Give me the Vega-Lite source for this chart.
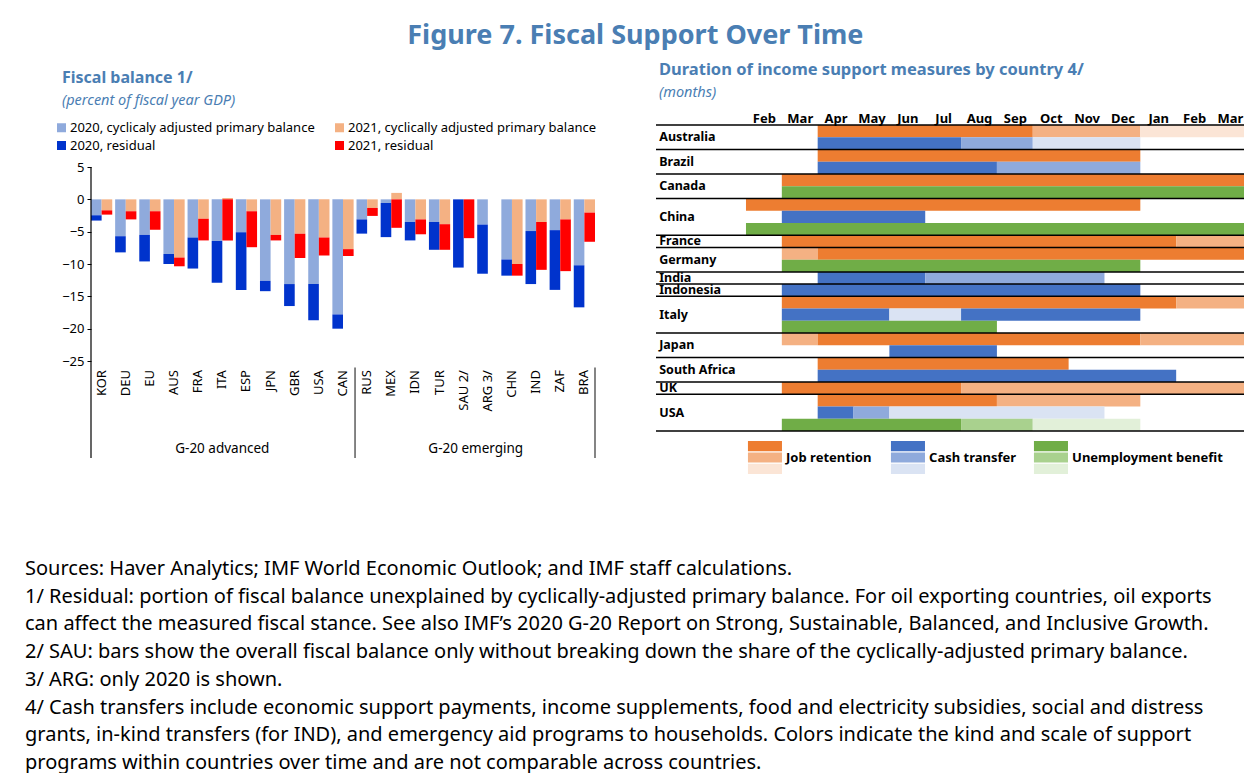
{
  "$schema": "https://vega.github.io/schema/vega-lite/v6.json",
  "padding": {"left": 25, "top": 22, "right": 0, "bottom": 0},
  "background": "white",
  "title": {"text": "Figure 7. Fiscal Support Over Time", "fontSize": 27, "font": "Noto Sans", "fontWeight": "bold", "color": "#4A7EB3", "anchor": "middle", "frame": "bounds", "offset": 12},
  "config": {
    "font": "Noto Sans",
    "view": {"stroke": null},
    "axis": {"grid": false}
  },
  "datasets": {
    "fb": [
      {"c":"KOR","yr":"2020","p":"a","s":"2020, cyclicaly adjusted primary balance","v":-2.46},
      {"c":"KOR","yr":"2020","p":"b","s":"2020, residual","v":-0.82},
      {"c":"KOR","yr":"2021","p":"a","s":"2021, cyclically adjusted primary balance","v":-1.7},
      {"c":"KOR","yr":"2021","p":"b","s":"2021, residual","v":-0.66},
      {"c":"DEU","yr":"2020","p":"a","s":"2020, cyclicaly adjusted primary balance","v":-5.7},
      {"c":"DEU","yr":"2020","p":"b","s":"2020, residual","v":-2.5},
      {"c":"DEU","yr":"2021","p":"a","s":"2021, cyclically adjusted primary balance","v":-1.84},
      {"c":"DEU","yr":"2021","p":"b","s":"2021, residual","v":-1.26},
      {"c":"EU","yr":"2020","p":"a","s":"2020, cyclicaly adjusted primary balance","v":-5.5},
      {"c":"EU","yr":"2020","p":"b","s":"2020, residual","v":-4.1},
      {"c":"EU","yr":"2021","p":"a","s":"2021, cyclically adjusted primary balance","v":-1.84},
      {"c":"EU","yr":"2021","p":"b","s":"2021, residual","v":-2.86},
      {"c":"AUS","yr":"2020","p":"a","s":"2020, cyclicaly adjusted primary balance","v":-8.45},
      {"c":"AUS","yr":"2020","p":"b","s":"2020, residual","v":-1.55},
      {"c":"AUS","yr":"2021","p":"a","s":"2021, cyclically adjusted primary balance","v":-9.0},
      {"c":"AUS","yr":"2021","p":"b","s":"2021, residual","v":-1.35},
      {"c":"FRA","yr":"2020","p":"a","s":"2020, cyclicaly adjusted primary balance","v":-5.9},
      {"c":"FRA","yr":"2020","p":"b","s":"2020, residual","v":-4.8},
      {"c":"FRA","yr":"2021","p":"a","s":"2021, cyclically adjusted primary balance","v":-3.0},
      {"c":"FRA","yr":"2021","p":"b","s":"2021, residual","v":-3.35},
      {"c":"ITA","yr":"2020","p":"a","s":"2020, cyclicaly adjusted primary balance","v":-6.45},
      {"c":"ITA","yr":"2020","p":"b","s":"2020, residual","v":-6.45},
      {"c":"ITA","yr":"2021","p":"a","s":"2021, cyclically adjusted primary balance","v":0.2},
      {"c":"ITA","yr":"2021","p":"b","s":"2021, residual","v":-6.35},
      {"c":"ESP","yr":"2020","p":"a","s":"2020, cyclicaly adjusted primary balance","v":-5.1},
      {"c":"ESP","yr":"2020","p":"b","s":"2020, residual","v":-8.9},
      {"c":"ESP","yr":"2021","p":"a","s":"2021, cyclically adjusted primary balance","v":-1.84},
      {"c":"ESP","yr":"2021","p":"b","s":"2021, residual","v":-5.56},
      {"c":"JPN","yr":"2020","p":"a","s":"2020, cyclicaly adjusted primary balance","v":-12.6},
      {"c":"JPN","yr":"2020","p":"b","s":"2020, residual","v":-1.6},
      {"c":"JPN","yr":"2021","p":"a","s":"2021, cyclically adjusted primary balance","v":-5.5},
      {"c":"JPN","yr":"2021","p":"b","s":"2021, residual","v":-0.85},
      {"c":"GBR","yr":"2020","p":"a","s":"2020, cyclicaly adjusted primary balance","v":-13.1},
      {"c":"GBR","yr":"2020","p":"b","s":"2020, residual","v":-3.4},
      {"c":"GBR","yr":"2021","p":"a","s":"2021, cyclically adjusted primary balance","v":-5.3},
      {"c":"GBR","yr":"2021","p":"b","s":"2021, residual","v":-3.77},
      {"c":"USA","yr":"2020","p":"a","s":"2020, cyclicaly adjusted primary balance","v":-13.1},
      {"c":"USA","yr":"2020","p":"b","s":"2020, residual","v":-5.6},
      {"c":"USA","yr":"2021","p":"a","s":"2021, cyclically adjusted primary balance","v":-5.9},
      {"c":"USA","yr":"2021","p":"b","s":"2021, residual","v":-2.8},
      {"c":"CAN","yr":"2020","p":"a","s":"2020, cyclicaly adjusted primary balance","v":-17.8},
      {"c":"CAN","yr":"2020","p":"b","s":"2020, residual","v":-2.2},
      {"c":"CAN","yr":"2021","p":"a","s":"2021, cyclically adjusted primary balance","v":-7.7},
      {"c":"CAN","yr":"2021","p":"b","s":"2021, residual","v":-1.06},
      {"c":"RUS","yr":"2020","p":"a","s":"2020, cyclicaly adjusted primary balance","v":-3.1},
      {"c":"RUS","yr":"2020","p":"b","s":"2020, residual","v":-2.2},
      {"c":"RUS","yr":"2021","p":"a","s":"2021, cyclically adjusted primary balance","v":-1.33},
      {"c":"RUS","yr":"2021","p":"b","s":"2021, residual","v":-1.23},
      {"c":"MEX","yr":"2020","p":"a","s":"2020, cyclicaly adjusted primary balance","v":-0.56},
      {"c":"MEX","yr":"2020","p":"b","s":"2020, residual","v":-5.28},
      {"c":"MEX","yr":"2021","p":"a","s":"2021, cyclically adjusted primary balance","v":1.0},
      {"c":"MEX","yr":"2021","p":"b","s":"2021, residual","v":-4.4},
      {"c":"IDN","yr":"2020","p":"a","s":"2020, cyclicaly adjusted primary balance","v":-3.5},
      {"c":"IDN","yr":"2020","p":"b","s":"2020, residual","v":-2.85},
      {"c":"IDN","yr":"2021","p":"a","s":"2021, cyclically adjusted primary balance","v":-3.1},
      {"c":"IDN","yr":"2021","p":"b","s":"2021, residual","v":-2.3},
      {"c":"TUR","yr":"2020","p":"a","s":"2020, cyclicaly adjusted primary balance","v":-3.5},
      {"c":"TUR","yr":"2020","p":"b","s":"2020, residual","v":-4.3},
      {"c":"TUR","yr":"2021","p":"a","s":"2021, cyclically adjusted primary balance","v":-3.84},
      {"c":"TUR","yr":"2021","p":"b","s":"2021, residual","v":-3.96},
      {"c":"SAU 2/","yr":"2020","p":"b","s":"2020, residual","v":-10.55},
      {"c":"SAU 2/","yr":"2021","p":"b","s":"2021, residual","v":-6.0},
      {"c":"ARG 3/","yr":"2020","p":"a","s":"2020, cyclicaly adjusted primary balance","v":-3.9},
      {"c":"ARG 3/","yr":"2020","p":"b","s":"2020, residual","v":-7.6},
      {"c":"CHN","yr":"2020","p":"a","s":"2020, cyclicaly adjusted primary balance","v":-9.3},
      {"c":"CHN","yr":"2020","p":"b","s":"2020, residual","v":-2.5},
      {"c":"CHN","yr":"2021","p":"a","s":"2021, cyclically adjusted primary balance","v":-10.0},
      {"c":"CHN","yr":"2021","p":"b","s":"2021, residual","v":-1.8},
      {"c":"IND","yr":"2020","p":"a","s":"2020, cyclicaly adjusted primary balance","v":-4.9},
      {"c":"IND","yr":"2020","p":"b","s":"2020, residual","v":-8.2},
      {"c":"IND","yr":"2021","p":"a","s":"2021, cyclically adjusted primary balance","v":-3.5},
      {"c":"IND","yr":"2021","p":"b","s":"2021, residual","v":-7.4},
      {"c":"ZAF","yr":"2020","p":"a","s":"2020, cyclicaly adjusted primary balance","v":-4.76},
      {"c":"ZAF","yr":"2020","p":"b","s":"2020, residual","v":-9.24},
      {"c":"ZAF","yr":"2021","p":"a","s":"2021, cyclically adjusted primary balance","v":-3.1},
      {"c":"ZAF","yr":"2021","p":"b","s":"2021, residual","v":-8.0},
      {"c":"BRA","yr":"2020","p":"a","s":"2020, cyclicaly adjusted primary balance","v":-10.2},
      {"c":"BRA","yr":"2020","p":"b","s":"2020, residual","v":-6.5},
      {"c":"BRA","yr":"2021","p":"a","s":"2021, cyclically adjusted primary balance","v":-2.05},
      {"c":"BRA","yr":"2021","p":"b","s":"2021, residual","v":-4.51}
    ],
    "gantt": [
      {"row":"Australia|JR","s":"JR1","a":2,"b":8},
      {"row":"Australia|JR","s":"JR2","a":8,"b":11},
      {"row":"Australia|JR","s":"JR3","a":11,"b":14},
      {"row":"Australia|CT","s":"CT1","a":2,"b":6},
      {"row":"Australia|CT","s":"CT2","a":6,"b":8},
      {"row":"Australia|CT","s":"CT3","a":8,"b":11},
      {"row":"Brazil|JR","s":"JR1","a":2,"b":11},
      {"row":"Brazil|CT","s":"CT1","a":2,"b":7},
      {"row":"Brazil|CT","s":"CT2","a":7,"b":11},
      {"row":"Canada|JR","s":"JR1","a":1,"b":14},
      {"row":"Canada|UB","s":"UB1","a":1,"b":14},
      {"row":"China|JR","s":"JR1","a":0,"b":11},
      {"row":"China|CT","s":"CT1","a":1,"b":5},
      {"row":"China|UB","s":"UB1","a":0,"b":14},
      {"row":"France|JR","s":"JR1","a":1,"b":12},
      {"row":"France|JR","s":"JR2","a":12,"b":14},
      {"row":"Germany|JR","s":"JR2","a":1,"b":2},
      {"row":"Germany|JR","s":"JR1","a":2,"b":14},
      {"row":"Germany|UB","s":"UB1","a":1,"b":11},
      {"row":"India|CT","s":"CT1","a":2,"b":5},
      {"row":"India|CT","s":"CT2","a":5,"b":10},
      {"row":"Indonesia|CT","s":"CT1","a":1,"b":11},
      {"row":"Italy|JR","s":"JR1","a":1,"b":12},
      {"row":"Italy|JR","s":"JR2","a":12,"b":14},
      {"row":"Italy|CT","s":"CT1","a":1,"b":4},
      {"row":"Italy|CT","s":"CT3","a":4,"b":6},
      {"row":"Italy|CT","s":"CT1","a":6,"b":11},
      {"row":"Italy|UB","s":"UB1","a":1,"b":7},
      {"row":"Japan|JR","s":"JR2","a":1,"b":2},
      {"row":"Japan|JR","s":"JR1","a":2,"b":11},
      {"row":"Japan|JR","s":"JR2","a":11,"b":14},
      {"row":"Japan|CT","s":"CT1","a":4,"b":7},
      {"row":"South Africa|JR","s":"JR1","a":2,"b":9},
      {"row":"South Africa|CT","s":"CT1","a":2,"b":12},
      {"row":"UK|JR","s":"JR1","a":1,"b":6},
      {"row":"UK|JR","s":"JR2","a":6,"b":14},
      {"row":"USA|JR","s":"JR1","a":2,"b":7},
      {"row":"USA|JR","s":"JR2","a":7,"b":11},
      {"row":"USA|CT","s":"CT1","a":2,"b":3},
      {"row":"USA|CT","s":"CT2","a":3,"b":4},
      {"row":"USA|CT","s":"CT3","a":4,"b":10},
      {"row":"USA|UB","s":"UB1","a":1,"b":6},
      {"row":"USA|UB","s":"UB2","a":6,"b":8},
      {"row":"USA|UB","s":"UB3","a":8,"b":11}
    ],
    "labels": [
      {"country":"Australia","first":"Australia|JR","mid":"Australia|JR","n":2},
      {"country":"Brazil","first":"Brazil|JR","mid":"Brazil|JR","n":2},
      {"country":"Canada","first":"Canada|JR","mid":"Canada|JR","n":2},
      {"country":"China","first":"China|JR","mid":"China|CT","n":3},
      {"country":"France","first":"France|JR","mid":"France|JR","n":1},
      {"country":"Germany","first":"Germany|JR","mid":"Germany|JR","n":2},
      {"country":"India","first":"India|CT","mid":"India|CT","n":1},
      {"country":"Indonesia","first":"Indonesia|CT","mid":"Indonesia|CT","n":1},
      {"country":"Italy","first":"Italy|JR","mid":"Italy|CT","n":3},
      {"country":"Japan","first":"Japan|JR","mid":"Japan|JR","n":2},
      {"country":"South Africa","first":"South Africa|JR","mid":"South Africa|JR","n":2},
      {"country":"UK","first":"UK|JR","mid":"UK|JR","n":1},
      {"country":"USA","first":"USA|JR","mid":"USA|CT","n":3}
    ]
  },
  "vconcat": [
    {
      "hconcat": [
        {
          "width": 504,
          "height": 333,
          "title": {"text": "Fiscal balance 1/", "subtitle": "(percent of fiscal year GDP)", "anchor": "start", "frame": "group", "dx": -29, "fontSize": 16, "fontWeight": "bold", "color": "#4A7EB3", "subtitleFontSize": 14.5, "subtitleFontStyle": "italic", "subtitleColor": "#4A7EB3", "subtitlePadding": 8, "offset": 14},
          "layer": [
            {
              "data": {"name": "fb"},
              "mark": {"type": "bar", "strokeWidth": 0},
              "encoding": {
                "x": {"field": "c", "type": "nominal", "scale": {"domain": ["KOR","DEU","EU","AUS","FRA","ITA","ESP","JPN","GBR","USA","CAN","RUS","MEX","IDN","TUR","SAU 2/","ARG 3/","CHN","IND","ZAF","BRA"], "paddingInner": 0.12, "paddingOuter": 0}, "axis": null},
                "xOffset": {"field": "yr", "type": "nominal", "scale": {"domain": ["2020","2021"], "paddingInner": 0, "paddingOuter": 0}},
                "y": {"field": "v", "type": "quantitative", "stack": "zero", "scale": {"domain": [-40, 11.5], "nice": false, "zero": false}, "axis": {"values": [5,0,-5,-10,-15,-20,-25], "title": null, "domain": false, "tickSize": 4, "labelFontSize": 13, "labelColor": "black", "tickColor": "black", "grid": false, "minExtent": 66, "labelPadding": 3}},
                "color": {"field": "s", "type": "nominal", "scale": {"domain": ["2020, cyclicaly adjusted primary balance","2021, cyclically adjusted primary balance","2020, residual","2021, residual"], "range": ["#8FAADC","#F4B183","#0033CC","#FF0000"]}, "legend": {"orient": "none", "legendX": -36, "legendY": -4, "direction": "horizontal", "columns": 2, "title": null, "symbolType": "square", "symbolSize": 81, "symbolStrokeWidth": 0, "labelFontSize": 13, "labelColor": "black", "columnPadding": 18, "rowPadding": 4, "labelOffset": 2, "labelLimit": 400}},
                "order": {"field": "p", "sort": "ascending"}
              }
            },
            {
              "mark": {"type": "rule", "color": "black", "strokeWidth": 1.5},
              "encoding": {"y": {"datum": 0}}
            },
            {
              "data": {"values": [{"c": "KOR"}]},
              "mark": {"type": "rule", "color": "black", "strokeWidth": 1.2},
              "encoding": {"x": {"field": "c", "type": "nominal", "bandPosition": 0}, "y": {"datum": 5}, "y2": {"datum": -40}}
            },
            {
              "data": {"name": "fb"},
              "transform": [{"aggregate": [{"op": "count", "as": "n"}], "groupby": ["c"]}],
              "mark": {"type": "text", "angle": 270, "align": "right", "baseline": "middle", "fontSize": 13, "color": "black"},
              "encoding": {"x": {"field": "c", "type": "nominal"}, "y": {"datum": -26.4}, "text": {"field": "c"}}
            },
            {
              "data": {"values": [{"g": "G-20 advanced", "c": "ITA"}]},
              "mark": {"type": "text", "align": "center", "baseline": "middle", "fontSize": 13.5, "color": "black"},
              "encoding": {"x": {"field": "c", "type": "nominal", "bandPosition": 0.5}, "y": {"datum": -38.6}, "text": {"field": "g"}}
            },
            {
              "data": {"values": [{"g": "G-20 emerging", "c": "ARG 3/"}]},
              "mark": {"type": "text", "align": "center", "baseline": "middle", "fontSize": 13.5, "color": "black"},
              "encoding": {"x": {"field": "c", "type": "nominal", "bandPosition": -0.07}, "y": {"datum": -38.6}, "text": {"field": "g"}}
            },
            {
              "data": {"values": [{"c": "RUS"}]},
              "mark": {"type": "rule", "color": "#333333", "strokeWidth": 1.2},
              "encoding": {"x": {"field": "c", "type": "nominal", "bandPosition": -0.07}, "y": {"datum": -26}, "y2": {"datum": -40}}
            },
            {
              "data": {"values": [{"c": "BRA"}]},
              "mark": {"type": "rule", "color": "#333333", "strokeWidth": 1.2},
              "encoding": {"x": {"field": "c", "type": "nominal", "bandPosition": 1}, "y": {"datum": -26}, "y2": {"datum": -40}}
            }
          ]
        },
        {
          "vconcat": [
            {
              "width": 589,
              "height": 306,
              "title": {"text": "Duration of income support measures by country 4/", "subtitle": "(months)", "anchor": "start", "frame": "group", "dx": 3, "fontSize": 16.5, "fontWeight": "bold", "color": "#4A7EB3", "subtitleFontSize": 14.5, "subtitleFontStyle": "italic", "subtitleColor": "#4A7EB3", "subtitlePadding": 7, "offset": 13},
              "layer": [
                {
                  "data": {"name": "gantt"},
                  "mark": {"type": "rect", "clip": true},
                  "encoding": {
                    "x": {"field": "a", "type": "quantitative", "scale": {"domain": [-2.51, 13.92], "nice": false, "zero": false}, "axis": {"orient": "top", "values": [0.5,1.5,2.5,3.5,4.5,5.5,6.5,7.5,8.5,9.5,10.5,11.5,12.5,13.5], "labelExpr": "['Feb','Mar','Apr','May','Jun','Jul','Aug','Sep','Oct','Nov','Dec','Jan','Feb','Mar'][floor(datum.value)]", "ticks": false, "domain": false, "grid": false, "title": null, "labelFontWeight": "bold", "labelFontSize": 13, "labelColor": "black", "labelPadding": 0, "labelOverlap": false, "labelFlush": false, "zindex": 1}},
                    "x2": {"field": "b"},
                    "y": {"field": "row", "type": "nominal", "scale": {"domain": ["Australia|JR","Australia|CT","Brazil|JR","Brazil|CT","Canada|JR","Canada|UB","China|JR","China|CT","China|UB","France|JR","Germany|JR","Germany|UB","India|CT","Indonesia|CT","Italy|JR","Italy|CT","Italy|UB","Japan|JR","Japan|CT","South Africa|JR","South Africa|CT","UK|JR","USA|JR","USA|CT","USA|UB"], "paddingInner": 0, "paddingOuter": 0}, "axis": null},
                    "color": {"field": "s", "type": "nominal", "scale": {"domain": ["JR1","JR2","JR3","CT1","CT2","CT3","UB1","UB2","UB3"], "range": ["#ED7D31","#F4B183","#FBE5D6","#4472C4","#8FAADC","#DAE3F3","#70AD47","#A9D18E","#E2F0D9"]}, "legend": null}
                  }
                },
                {
                  "data": {"name": "labels"},
                  "mark": {"type": "rule", "color": "black", "strokeWidth": 1.5},
                  "encoding": {"y": {"field": "first", "type": "nominal", "bandPosition": 0}}
                },
                {
                  "data": {"values": [{"last": "USA|UB"}]},
                  "mark": {"type": "rule", "color": "black", "strokeWidth": 1.5},
                  "encoding": {"y": {"field": "last", "type": "nominal", "bandPosition": 1}}
                },
                {
                  "data": {"name": "labels"},
                  "transform": [{"filter": "datum.n != 2"}],
                  "mark": {"type": "text", "align": "left", "baseline": "middle", "fontSize": 12.5, "fontWeight": "bold", "color": "black"},
                  "encoding": {"x": {"datum": -2.42}, "y": {"field": "mid", "type": "nominal", "bandPosition": 0.5}, "text": {"field": "country"}}
                },
                {
                  "data": {"name": "labels"},
                  "transform": [{"filter": "datum.n == 2"}],
                  "mark": {"type": "text", "align": "left", "baseline": "middle", "fontSize": 12.5, "fontWeight": "bold", "color": "black"},
                  "encoding": {"x": {"datum": -2.42}, "y": {"field": "first", "type": "nominal", "bandPosition": 1}, "text": {"field": "country"}}
                }
              ]
            },
            {
              "width": {"step": 143},
              "height": 33,
              "data": {"values": [
                {"m":"Job retention","l":1,"s":"JR1"},{"m":"Job retention","l":2,"s":"JR2"},{"m":"Job retention","l":3,"s":"JR3"},
                {"m":"Cash transfer","l":1,"s":"CT1"},{"m":"Cash transfer","l":2,"s":"CT2"},{"m":"Cash transfer","l":3,"s":"CT3"},
                {"m":"Unemployment benefit","l":1,"s":"UB1"},{"m":"Unemployment benefit","l":2,"s":"UB2"},{"m":"Unemployment benefit","l":3,"s":"UB3"}
              ]},
              "layer": [
                {
                  "mark": "rect",
                  "encoding": {
                    "x": {"field": "m", "type": "nominal", "scale": {"domain": ["Job retention","Cash transfer","Unemployment benefit"], "paddingInner": 0.762, "paddingOuter": 0.643}, "axis": null},
                    "y": {"field": "l", "type": "ordinal", "scale": {"paddingInner": 0.1, "paddingOuter": 0}, "axis": null},
                    "color": {"field": "s", "type": "nominal", "scale": {"domain": ["JR1","JR2","JR3","CT1","CT2","CT3","UB1","UB2","UB3"], "range": ["#ED7D31","#F4B183","#FBE5D6","#4472C4","#8FAADC","#DAE3F3","#70AD47","#A9D18E","#E2F0D9"]}, "legend": null}
                  }
                },
                {
                  "transform": [{"filter": "datum.l == 2"}],
                  "mark": {"type": "text", "align": "left", "baseline": "middle", "fontSize": 13, "fontWeight": "bold", "color": "black"},
                  "encoding": {
                    "x": {"field": "m", "type": "nominal", "bandPosition": 1.12},
                    "y": {"field": "l", "type": "ordinal", "bandPosition": 0.5},
                    "text": {"field": "m"}
                  }
                }
              ]
            }
          ],
          "spacing": 9
        }
      ],
      "spacing": 58,
      "resolve": {"scale": {"color": "independent"}, "legend": {"color": "independent"}}
    },
    {
      "width": 1100,
      "height": 194,
      "data": {"values": [
        {"i": 1, "t": "Sources: Haver Analytics; IMF World Economic Outlook; and IMF staff calculations."},
        {"i": 2, "t": "1/ Residual: portion of fiscal balance unexplained by cyclically-adjusted primary balance. For oil exporting countries, oil exports"},
        {"i": 3, "t": "can affect the measured fiscal stance. See also IMF’s 2020 G-20 Report on Strong, Sustainable, Balanced, and Inclusive Growth."},
        {"i": 4, "t": "2/ SAU: bars show the overall fiscal balance only without breaking down the share of the cyclically-adjusted primary balance."},
        {"i": 5, "t": "3/ ARG: only 2020 is shown."},
        {"i": 6, "t": "4/ Cash transfers include economic support payments, income supplements, food and electricity subsidies, social and distress"},
        {"i": 7, "t": "grants, in-kind transfers (for IND), and emergency aid programs to households. Colors indicate the kind and scale of support"},
        {"i": 8, "t": "programs within countries over time and are not comparable across countries."}
      ]},
      "mark": {"type": "text", "align": "left", "baseline": "middle", "fontSize": 20, "color": "black"},
      "encoding": {
        "x": {"datum": 0, "type": "quantitative", "scale": {"domain": [0, 1], "range": [-66, 1034]}, "axis": null},
        "y": {"field": "i", "type": "ordinal", "scale": {"type": "point", "padding": 0}, "axis": null},
        "text": {"field": "t"}
      }
    }
  ],
  "spacing": 85,
  "resolve": {"scale": {"color": "independent"}, "legend": {"color": "independent"}}
}
